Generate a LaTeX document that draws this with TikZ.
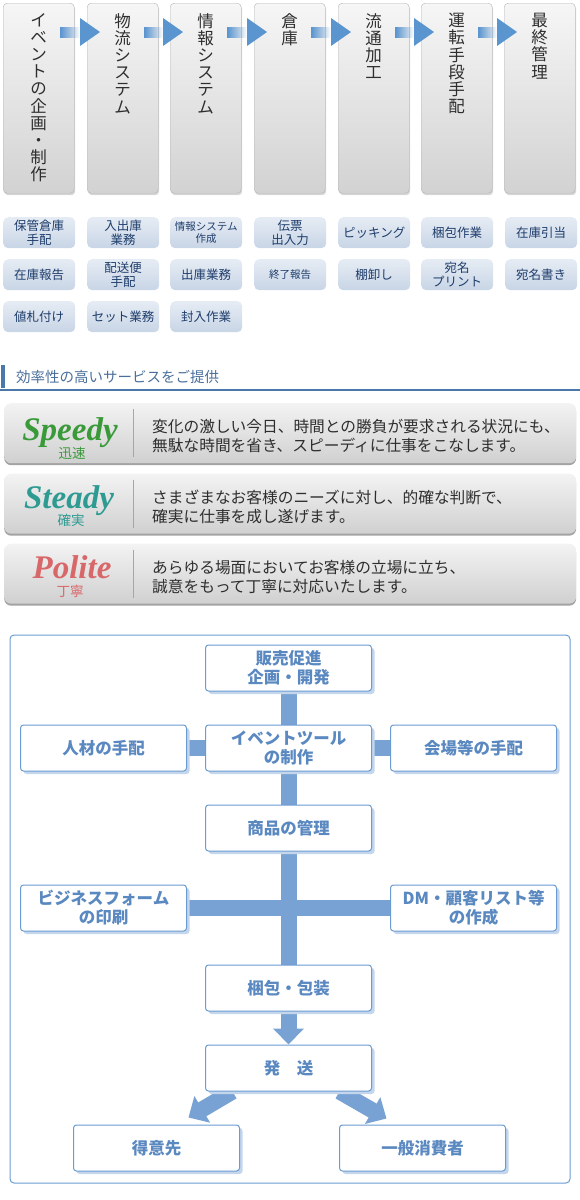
\documentclass[tikz,border=0pt]{standalone}
\usepackage{fontspec}
\newfontfamily\jp{Noto Sans CJK JP}
\newfontfamily\lser{Liberation Serif}
\usetikzlibrary{arrows.meta,shadows,fadings,calc,backgrounds}
\definecolor{colbd}{HTML}{B5B5B5}
\definecolor{coltop}{HTML}{F6F6F6}
\definecolor{colbot}{HTML}{D2D2D2}
\definecolor{arrblue}{HTML}{5A95D0}
\definecolor{txtdark}{HTML}{2E2E2E}
\definecolor{btntop}{HTML}{E6ECF4}
\definecolor{btnbot}{HTML}{C8D5E6}
\definecolor{btntxt}{HTML}{1E3D6B}
\definecolor{headtxt}{HTML}{4A6F9A}
\definecolor{headline}{HTML}{4A78A8}
\definecolor{pantop}{HTML}{F3F3F3}
\definecolor{panbot}{HTML}{D0D0D0}
\definecolor{spgreen}{HTML}{3A9A3A}
\definecolor{stteal}{HTML}{2E9B92}
\definecolor{porose}{HTML}{D8676A}
\definecolor{flowbd}{HTML}{6A9BD2}
\definecolor{flowtxt}{HTML}{5A88C0}
\definecolor{barblue}{HTML}{78A2D4}
\definecolor{flowsh}{HTML}{C4D6EC}
\begin{document}
\begin{tikzpicture}[x=1pt,y=-1pt,
 colbox/.style={anchor=north west, minimum width=71pt, minimum height=190pt, inner sep=0pt, rounded corners=4pt, draw=colbd, top color=coltop, bottom color=colbot, drop shadow={shadow xshift=1pt,shadow yshift=-2pt,fill=black!40,opacity=.4}},
 coltxt/.style={anchor=north, align=center, inner sep=0pt, text=txtdark, font=\jp\fontsize{16.5pt}{17.2pt}\selectfont},
 btn/.style={anchor=north west, minimum width=72pt, minimum height=31pt, inner sep=0pt, rounded corners=5pt, top color=btntop, bottom color=btnbot, align=center, text=btntxt, font=\jp\fontsize{12.5pt}{14pt}\selectfont},
 small/.style={font=\jp\fontsize{10.5pt}{12.5pt}\selectfont},
 arrshaft/.style={fill=arrblue, path fading=east},
 arrhead/.style={fill=arrblue},
 panel/.style={anchor=north west, minimum width=572pt, minimum height=60pt, inner sep=0pt, rounded corners=7pt, top color=pantop, bottom color=panbot, drop shadow={shadow xshift=0pt, shadow yshift=-2pt, fill=black!60, opacity=.6}},
 word/.style={anchor=base, inner sep=0pt, text depth=0pt, font=\lser\bfseries\itshape\fontsize{33pt}{33pt}\selectfont},
 sub/.style={inner sep=0pt, font=\jp\fontsize{13.5pt}{14pt}\selectfont},
 body/.style={anchor=west, align=left, inner sep=0pt, text=txtdark, font=\jp\fontsize{15.7pt}{19pt}\selectfont},
 divider/.style={draw=gray!70, line width=1pt},
 fbox/.style={minimum width=166pt, minimum height=46pt, inner sep=0pt, rounded corners=3pt, draw=flowbd, line width=1pt, fill=white, align=center, text=flowtxt, font=\jp\bfseries\fontsize{16.5pt}{19pt}\selectfont, drop shadow={shadow xshift=3pt, shadow yshift=-3pt, fill=flowsh, opacity=1}},
 bar/.style={draw=barblue, line width=16pt},
 fatarrow/.style={draw=barblue, line width=16pt, -{Triangle[width=30pt,length=16pt]}},
]
\useasboundingbox (0,0) rectangle (580,1200);

% top process columns
\foreach \i/\xx in {1/3,2/87,3/170,4/254,5/338,6/421,7/504}
  \node[colbox] (c\i) at (\xx,3) {};
\node[coltxt] (t1) at ($(c1.north)+(0,10)$) {イ\\ベ\\ン\\ト\\の\\企\\画\\・\\制\\作};
\node[coltxt] (t2) at ($(c2.north)+(0,10)$) {物\\流\\シ\\ス\\テ\\ム};
\node[coltxt] (t3) at ($(c3.north)+(0,10)$) {情\\報\\シ\\ス\\テ\\ム};
\node[coltxt] (t4) at ($(c4.north)+(0,10)$) {倉\\庫};
\node[coltxt] (t5) at ($(c5.north)+(0,10)$) {流\\通\\加\\工};
\node[coltxt] (t6) at ($(c6.north)+(0,10)$) {運\\転\\手\\段\\手\\配};
\node[coltxt] (t7) at ($(c7.north)+(0,10)$) {最\\終\\管\\理};
\foreach \a/\b in {1/2,2/3,3/4,4/5,5/6,6/7} {
  \fill[arrshaft] ($(c\a.north east)+(-14,24)$) rectangle ($(c\b.north west)+(-7,35)$);
  \fill[arrhead] ($(c\b.north west)+(-7,15)$) -- ($(c\b.north west)+(13,29)$) -- ($(c\b.north west)+(-7,43)$) -- cycle;
}

% task buttons
\node[btn] (b11) at (3,217) {保管倉庫\\手配};
\node[btn] (b12) at (87,217) {入出庫\\業務};
\node[btn,small] (b13) at (170,217) {情報システム\\作成};
\node[btn] (b14) at (254,217) {伝票\\出入力};
\node[btn] (b15) at (338,217) {ピッキング};
\node[btn] (b16) at (421,217) {梱包作業};
\node[btn] (b17) at (505,217) {在庫引当};
\node[btn] (b21) at (3,259) {在庫報告};
\node[btn] (b22) at (87,259) {配送便\\手配};
\node[btn] (b23) at (170,259) {出庫業務};
\node[btn,small] (b24) at (254,259) {終了報告};
\node[btn] (b25) at (338,259) {棚卸し};
\node[btn] (b26) at (421,259) {宛名\\プリント};
\node[btn] (b27) at (505,259) {宛名書き};
\node[btn] (b31) at (3,301) {値札付け};
\node[btn] (b32) at (87,301) {セット業務};
\node[btn] (b33) at (170,301) {封入作業};

% heading
\fill[headline] (1,365) rectangle (4.5,388);
\draw[headline, line width=1.5pt] (0,390) -- (580,390);
\node[anchor=west, inner sep=0pt, text=headtxt, font=\jp\fontsize{14.5pt}{15pt}\selectfont] (head) at (16,377) {効率性の高いサービスをご提供};

% panels
\node[panel] (p1) at (4,403) {};
\node[panel] (p2) at (4,473.5) {};
\node[panel] (p3) at (4,543.5) {};
\foreach \p in {p1,p2,p3}
  \draw[divider] ($(\p.north west)+(129,6)$) -- ($(\p.south west)+(129,-6)$);
\node[word, text=spgreen] (w1) at ($(p1.north west)+(66,37)$) {Speedy};
\node[sub, text=spgreen] (s1) at ($(p1.north west)+(68,50)$) {迅速};
\node[body] (d1) at ($(p1.west)+(148,3)$) {変化の激しい今日、時間との勝負が要求される状況にも、\\無駄な時間を省き、スピーディに仕事をこなします。};
\node[word, text=stteal] (w2) at ($(p2.north west)+(65,35)$) {Steady};
\node[sub, text=stteal] (s2) at ($(p2.north west)+(67,47)$) {確実};
\node[body] (d2) at ($(p2.west)+(148,3)$) {さまざまなお客様のニーズに対し、的確な判断で、\\確実に仕事を成し遂げます。};
\node[word, text=porose] (w3) at ($(p3.north west)+(68,35)$) {Polite};
\node[sub, text=porose] (s3) at ($(p3.north west)+(66,48)$) {丁寧};
\node[body] (d3) at ($(p3.west)+(148,3)$) {あらゆる場面においてお客様の立場に立ち、\\誠意をもって丁寧に対応いたします。};

% flow chart
\node[fbox] (hanbai) at (288.5,668) {販売促進\\企画・開発};
\node[fbox] (event) at (288.5,748) {イベントツール\\の制作};
\node[fbox] (jinzai) at (103.5,748) {人材の手配};
\node[fbox] (kaijo) at (473.5,748) {会場等の手配};
\node[fbox] (shohin) at (288.5,828) {商品の管理};
\node[fbox] (biz) at (103.5,908) {ビジネスフォーム\\の印刷};
\node[fbox] (dm) at (473.5,908) {DM・顧客リスト等\\の作成};
\node[fbox] (konpo) at (288.5,988) {梱包・包装};
\node[fbox] (hasso) at (288.5,1068) {発　送};
\node[fbox] (tokui) at (156.5,1148) {得意先};
\node[fbox] (ippan) at (422.5,1148) {一般消費者};

\begin{scope}[on background layer]
  \draw[flowbd, line width=1pt, rounded corners=4pt] (10,635) rectangle (570,1183);
  \draw[bar] (hanbai) -- (event);
  \draw[bar] (event) -- (shohin);
  \draw[bar] (shohin) -- (konpo);
  \draw[bar] (jinzai) -- (event);
  \draw[bar] (event) -- (kaijo);
  \draw[bar] (biz) -- (dm);
  \draw[fatarrow] (konpo.south) -- (hasso.north);
  \draw[fatarrow] ($(hasso.south)+(-56,0)$) -- ($(tokui.north)+(32,-7)$);
  \draw[fatarrow] ($(hasso.south)+(51,0)$) -- ($(ippan.north)+(-36,-6)$);
\end{scope}
\end{tikzpicture}
\end{document}
